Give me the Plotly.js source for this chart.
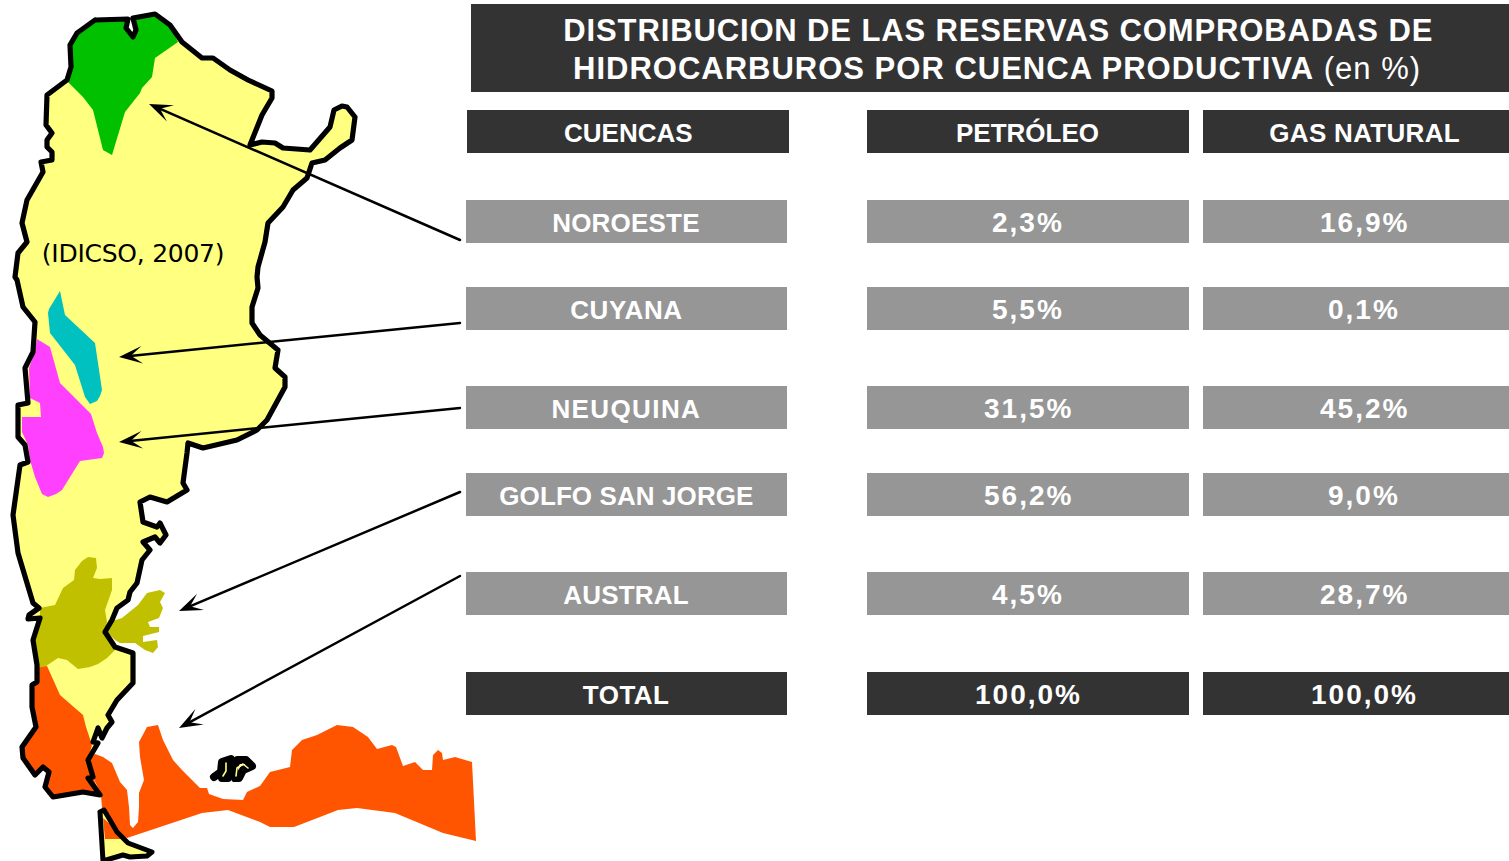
<!DOCTYPE html>
<html><head><meta charset="utf-8">
<script src="https://cdn.plot.ly/plotly-3.0.1.min.js"></script>
<style>html,body{margin:0;padding:0;background:#fff;overflow:hidden}#c{width:1509px;height:861px}.js-line{stroke-linejoin:round!important;stroke-linecap:round}</style>
</head><body><div id="c"></div>
<script>
// Table content
const basins = ["NOROESTE","CUYANA","NEUQUINA","GOLFO SAN JORGE","AUSTRAL"];
const oil = ["2,3%","5,5%","31,5%","56,2%","4,5%"];
const gas = ["16,9%","0,1%","45,2%","9,0%","28,7%"];
const totalRow = ["TOTAL","100,0%","100,0%"];
const headers = ["CUENCAS","PETRÓLEO","GAS NATURAL"];
const titleLine1 = "DISTRIBUCION DE LAS RESERVAS COMPROBADAS DE";
const titleLine2 = "HIDROCARBUROS POR CUENCA PRODUCTIVA";
const source = "(IDICSO, 2007)";

// Map outlines
const mainX = [95,128,126,133,136,133,155,170,182,193,202,213,230,248,265,272,272,262,250,262,275,283,310,320,330,334,342,347,355,352,340,325,312,307,293,283,268,265,258,257,258,252,252,260,278,275,285,285,267,257,237,203,188,187,183,187,167,150,140,143,157,160,166,160,155,143,150,142,137,130,128,117,112,105,115,133,133,117,108,112,107,102,98,93,98,88,93,88,100,83,53,45,49,43,35,23,22,36,32,32,37,37,33,40,28,29,39,33,18,13,20,28,25,18,18,28,25,33,35,23,17,15,18,27,22,27,43,41,52,52,47,47,52,46,47,67,71,70,77,95];
const mainY = [20,19,28,37,30,18,14,25,42,50,58,58,70,80,87,91,98,115,145,142,143,148,150,138,127,110,106,107,117,140,148,160,163,178,190,207,223,242,267,277,288,307,323,335,350,368,377,387,420,430,440,448,443,453,483,490,502,497,502,522,527,523,535,543,537,542,550,560,583,592,600,608,620,632,647,653,683,700,715,722,728,738,728,742,743,760,777,778,795,792,797,787,772,767,775,758,747,727,707,685,682,665,640,618,619,615,608,603,553,515,465,462,445,437,405,403,368,352,322,307,280,277,253,242,223,200,172,162,160,152,147,140,133,125,95,80,67,45,33,20];
const tdfX = [100,104,110,117,128,140,152,147,130,123,106,103,100];
const tdfY = [812,810,820,832,843,848,852,856,857,855,861,861,812];
const tdfOrangeX = [103,110,117,122,105];
const tdfOrangeY = [818,824,832,839,839];
const greenX = [68,83,93,103,112,125,140,142,152,155,178,170,155,133,136,133,126,128,95,77,70,71,68];
const greenY = [82,97,110,150,155,112,93,88,77,58,42,25,14,18,30,37,28,19,20,33,45,67,82];
const cyanX = [60,65,95,99,102,100,97,90,85,75,50,48,49,60];
const cyanY = [291,315,343,370,390,396,401,404,397,365,333,313,309,291];
const magentaX = [37,50,60,91,97,103,104,102,80,62,56,48,42,35,30,28,22,22,41,40,30,29,35,37];
const magentaY = [339,347,383,414,433,447,453,458,461,490,494,497,494,477,460,445,432,417,417,403,398,368,352,339];
const oliveWestX = [40,55,63,68,74,75,82,88,96,97,93,100,112,112,105,107,105,115,107,98,90,78,67,58,40,37,33,40,40];
const oliveWestY = [608,605,588,584,580,570,561,557,558,568,578,579,578,590,610,622,632,650,658,664,667,669,660,658,670,665,640,618,608];
const oliveEastX = [109,122,138,147,160,165,160,163,159,148,150,159,159,143,143,157,158,153,145,135,120,115,107,109];
const oliveEastY = [622,618,605,593,590,593,602,608,618,622,627,627,632,636,642,640,647,653,650,643,643,640,632,622];
const orangeWestX = [47,60,68,83,86,92,88,93,100,83,53,45,49,43,35,23,22,36,32,32,37,37,47];
const orangeWestY = [666,695,702,715,727,745,760,777,795,792,797,787,772,767,775,758,747,727,707,685,682,668,666];
const orangeEastX = [95,103,112,120,127,129,130,133,138,139,139,144,140,139,147,158,163,173,182,200,207,209,223,243,247,260,270,290,292,302,317,337,353,368,377,392,396,403,415,423,432,433,438,442,443,455,472,476,443,395,357,338,320,294,270,260,228,202,127,115,110,102,101,93,88,95];
const orangeEastY = [754,757,763,782,790,807,825,828,822,807,793,780,757,742,727,725,740,760,770,788,788,794,799,800,792,786,772,767,750,740,735,725,727,737,749,745,747,766,762,770,770,755,750,753,760,757,762,841,833,813,808,810,817,827,827,822,810,813,838,832,824,808,795,777,760,754];
const malvinasAX = [214,221,222,231];
const malvinasAY = [777,772,762,759];
const malvinasBX = [222,228,229];
const malvinasBY = [778,778,765];
const malvinasCX = [235,239,243,252,246,237,234,235];
const malvinasCY = [778,778,770,766,760,760,768,778];
const malvinasDX = [226,226,223];
const malvinasDY = [763,771,776];
const malvinasEX = [236,237,243,248];
const malvinasEY = [776,768,764,768];

// Arrows: tail then tip
const arrowTailX = [460,460,460,460,460];
const arrowTailY = [240,323,408,492,576];
const arrowTipX = [149,119,119,179,179];
const arrowTipY = [104,357,442,611,728];

const YEL="#FFFF80", DARK="#333333", GRAY="#969696";
function fill(x,y,c){return {type:"scatter",mode:"lines",x,y,fill:"toself",fillcolor:c,line:{width:0,color:c},hoverinfo:"skip",showlegend:false};}
function edge(x,y,w,c){return {type:"scatter",mode:"lines",x,y,line:{width:w,color:c||"#000",shape:"linear"},hoverinfo:"skip",showlegend:false};}

const traces=[
 fill(mainX,mainY,YEL), fill(tdfX,tdfY,YEL),
 fill(greenX,greenY,"#00C000"), fill(cyanX,cyanY,"#00C0C0"), fill(magentaX,magentaY,"#FF40FF"),
 fill(oliveWestX,oliveWestY,"#C0C000"), fill(oliveEastX,oliveEastY,"#C0C000"),
 fill(orangeWestX,orangeWestY,"#FF5500"), fill(orangeEastX,orangeEastY,"#FF5500"), fill(tdfOrangeX,tdfOrangeY,"#FF5500"),
 edge(mainX,mainY,5.2), edge(tdfX,tdfY,5),
 edge(malvinasAX,malvinasAY,8), edge(malvinasBX,malvinasBY,8), edge(malvinasCX,malvinasCY,8),
 edge(malvinasDX,malvinasDY,1.6,YEL), edge(malvinasEX,malvinasEY,1.6,YEL)
];

// arrow shafts and barbed heads, derived from tail and tip
arrowTipX.forEach((tx,i)=>{
  const ty=arrowTipY[i], ax=arrowTailX[i], ay=arrowTailY[i];
  const a=Math.atan2(ay-ty,ax-tx), L=25, sp=0.36, n=12;
  traces.push(edge([ax,tx+6*Math.cos(a)],[ay,ty+6*Math.sin(a)],2.5));
  traces.push(fill(
    [tx,tx+L*Math.cos(a+sp),tx+n*Math.cos(a),tx+L*Math.cos(a-sp),tx],
    [ty,ty+L*Math.sin(a+sp),ty+n*Math.sin(a),ty+L*Math.sin(a-sp),ty],"#000"));
});

const shapes=[], annotations=[], spacings=[];
function box(x0,y0,x1,y1,c){shapes.push({type:"rect",xref:"x",yref:"y",x0,y0,x1,y1,fillcolor:c,line:{width:0},layer:"below"});}
function label(x,y,t,size,color,spacing,fam){annotations.push({x,y,xref:"x",yref:"y",text:t,showarrow:false,xanchor:"center",yanchor:"middle",align:"center",font:{family:fam||"'Liberation Sans',Arial,sans-serif",size,color}});spacings.push(spacing||0);}

const rowSp=[0.2,0.6,1.4,0.1,0.2];
box(471,4,1509,92,DARK);
label(998,30,"<b>"+titleLine1+"</b>",31,"#fff",0.87);
label(997,68,"<b>"+titleLine2+"</b> (en %)",31,"#fff",1.0);
box(467,110,789,153,DARK); box(867,110,1189,153,DARK); box(1203,110,1509,153,DARK);
label(628,133,"<b>"+headers[0]+"</b>",26,"#fff",0);
label(1027,133,"<b>"+headers[1]+"</b>",26,"#fff",0);
label(1364,133,"<b>"+headers[2]+"</b>",26,"#fff",0.3);
const rowTops=[200,287,386,473,572];
rowTops.forEach((t,i)=>{
  box(466,t,787,t+43,GRAY); box(867,t,1189,t+43,GRAY); box(1203,t,1509,t+43,GRAY);
  label(626,t+23,"<b>"+basins[i]+"</b>",26,"#fff",rowSp[i]);
  label(1028,t+22,"<b>"+oil[i]+"</b>",28,"#fff",2);
  label(1364,t+22,"<b>"+gas[i]+"</b>",28,"#fff",2);
});
box(466,672,787,715,DARK); box(867,672,1189,715,DARK); box(1203,672,1509,715,DARK);
label(626,695,"<b>"+totalRow[0]+"</b>",26,"#fff",0.5);
label(1028,694,"<b>"+totalRow[1]+"</b>",28,"#fff",2);
label(1364,694,"<b>"+totalRow[2]+"</b>",28,"#fff",2);
label(133,253,source,25,"#000",-0.25,"'DejaVu Sans',sans-serif");

Plotly.newPlot("c",traces,{
  width:1509,height:861,margin:{l:0,r:0,t:0,b:0},paper_bgcolor:"#fff",plot_bgcolor:"#fff",showlegend:false,
  xaxis:{range:[0,1509],visible:false,fixedrange:true},
  yaxis:{range:[861,0],visible:false,fixedrange:true},
  shapes,annotations
},{displayModeBar:false,staticPlot:true}).then(()=>{
  const css=spacings.map((s,i)=>s?`.annotation[data-index="${i}"] text{letter-spacing:${s}px}`:"").join("");
  const st=document.createElement("style");st.textContent=css;document.head.appendChild(st);
});
</script></body></html>
